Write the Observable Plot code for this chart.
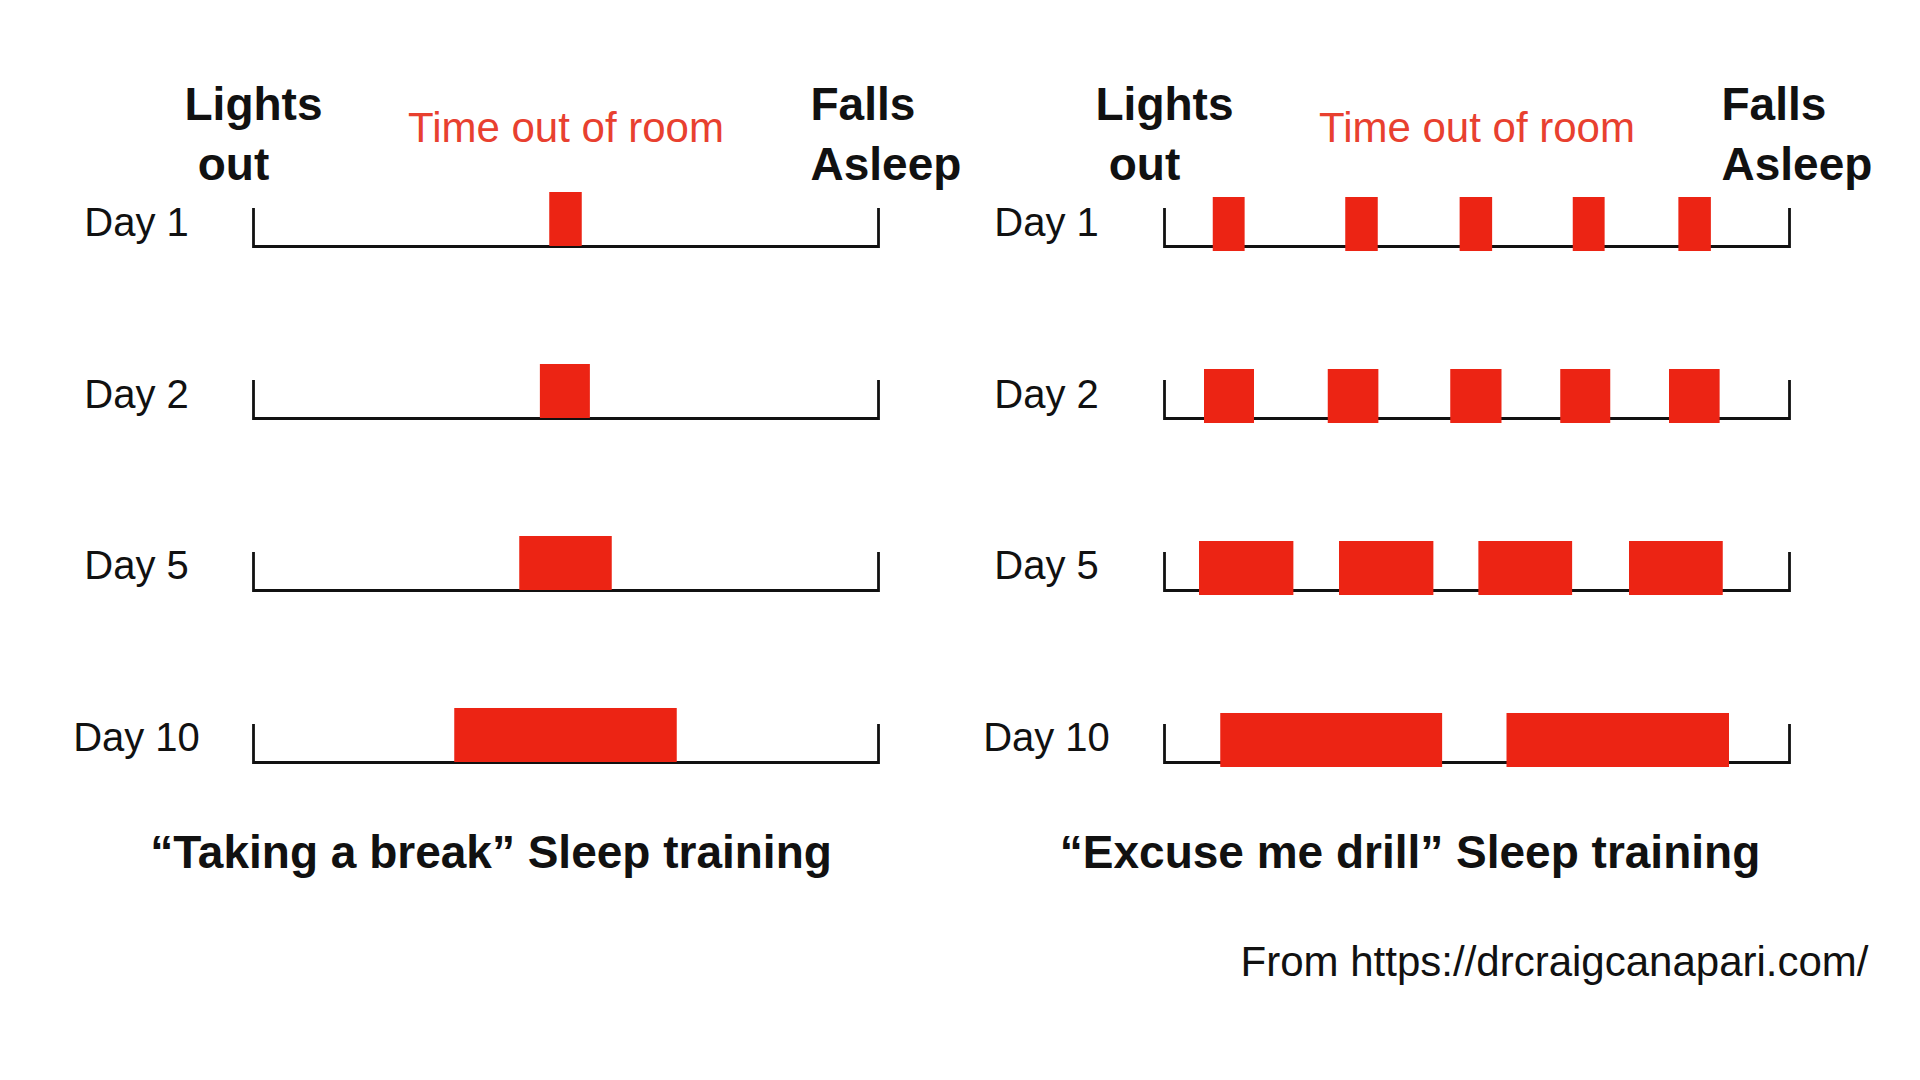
<!DOCTYPE html>
<html>
<head>
<meta charset="utf-8">
<script src="https://cdn.jsdelivr.net/npm/d3@7"></script>
<script src="https://cdn.jsdelivr.net/npm/@observablehq/plot@0.6"></script>
<style>
  html, body { margin: 0; padding: 0; background: #fff; }
  #wrap { position: relative; width: 1920px; height: 1080px; overflow: hidden; background: #fff; }
  #wrap svg { position: absolute; top: 0; overflow: visible; max-width: none; }
</style>
</head>
<body>
<div id="wrap"></div>
<script>
// ---- data ----
const days = ["Day 1", "Day 2", "Day 5", "Day 10"];
const span = [0, 100]; // lights out -> falls asleep (relative time)

// "Taking a break": one period out of the room per night
const breakDay = ["Day 1", "Day 2", "Day 5", "Day 10"];
const breakStart = [47.4, 45.9, 42.6, 32.2];
const breakEnd   = [52.6, 53.9, 57.4, 67.8];

// "Excuse me drill": several periods out of the room per night
const drillDay = ["Day 1","Day 1","Day 1","Day 1","Day 1",
                  "Day 2","Day 2","Day 2","Day 2","Day 2",
                  "Day 5","Day 5","Day 5","Day 5",
                  "Day 10","Day 10"];
const drillStart = [7.8, 29.0, 47.3, 65.4, 82.3,
                    6.4, 26.2, 45.8, 63.4, 80.8,
                    5.6, 28.0, 50.3, 74.4,
                    9.0, 54.8];
const drillEnd   = [12.9, 34.2, 52.5, 70.5, 87.5,
                    14.4, 34.3, 54.0, 71.4, 88.9,
                    20.7, 43.1, 65.3, 89.4,
                    44.5, 90.4];

const titles = ["“Taking a break” Sleep training", "“Excuse me drill” Sleep training"];
const startLabel = ["Lights", "out"];
const endLabel = ["Falls", "Asleep"];
const midLabel = "Time out of room";
const source = "From https://drcraigcanapari.com/";

const RED = "#ec2414";
const TEXTRED = "#e8402f";
const INK = "#111";
const FONT = "'Liberation Sans', Arial, Helvetica, sans-serif";

function rows(dayArr, s, e) {
  return dayArr.map((d, i) => ({day: d, start: s[i], end: e[i]}));
}

function panel(opts) {
  const ends = days.flatMap(d => span.map(x => ({day: d, x})));
  const marks = [
    Plot.ruleY(days, {y: d => d, x1: span[0], x2: span[1], dy: 27, stroke: INK, strokeWidth: 3}),
    Plot.tickX(ends, {x: "x", y: "day", insetTop: 16, insetBottom: -2, stroke: INK, strokeWidth: 2.8}),
    Plot.barX(opts.data, {x1: "start", x2: "end", y: "day", fill: RED, dy: opts.barDy}),
    Plot.text(days, {x: span[0], y: d => d, text: d => d, dx: opts.dayDx, dy: 16,
      lineAnchor: "bottom", textAnchor: "middle", fontSize: 40, fill: INK}),
    Plot.text([startLabel[0]], {x: span[0], frameAnchor: "top", dy: -73, lineAnchor: "bottom",
      textAnchor: "middle", fontSize: 46, fontWeight: "bold", fill: INK}),
    Plot.text([startLabel[1]], {x: span[0], frameAnchor: "top", dx: -20, dy: -13, lineAnchor: "bottom",
      textAnchor: "middle", fontSize: 46, fontWeight: "bold", fill: INK}),
    Plot.text([endLabel[0]], {x: span[1], frameAnchor: "top", dx: -68, dy: -73, lineAnchor: "bottom",
      textAnchor: "start", fontSize: 46, fontWeight: "bold", fill: INK}),
    Plot.text([endLabel[1]], {x: span[1], frameAnchor: "top", dx: -68, dy: -13, lineAnchor: "bottom",
      textAnchor: "start", fontSize: 46, fontWeight: "bold", fill: INK}),
    Plot.text([midLabel], {x: (span[0] + span[1]) / 2, frameAnchor: "top", dy: -51, lineAnchor: "bottom",
      textAnchor: "middle", fontSize: 42, fill: TEXTRED}),
    Plot.text([opts.title], {frameAnchor: "bottom", dx: opts.titleDx, dy: 105, lineAnchor: "bottom",
      textAnchor: "middle", fontSize: 46, fontWeight: "bold", fill: INK})
  ];
  if (opts.source) {
    marks.push(Plot.text([opts.source], {frameAnchor: "bottom-right", dx: 79, dy: 213, lineAnchor: "bottom",
      textAnchor: "end", fontSize: 42, fill: INK}));
  }
  const svg = Plot.plot({
    width: 960,
    height: 1080,
    marginLeft: opts.marginLeft,
    marginRight: opts.marginRight,
    marginTop: 192,
    marginBottom: 318,
    style: {fontFamily: FONT, background: "transparent", overflow: "visible"},
    x: {domain: span, axis: null},
    y: {type: "band", domain: days, paddingInner: 0.686, paddingOuter: 0, align: 0.5, round: false, axis: null},
    marks
  });
  svg.style.left = opts.left + "px";
  return svg;
}

const wrap = document.getElementById("wrap");
wrap.appendChild(panel({
  left: 0, marginLeft: 253, marginRight: 82,
  data: rows(breakDay, breakStart, breakEnd), barDy: 0,
  dayDx: -117, titleDx: -75, title: titles[0]
}));
wrap.appendChild(panel({
  left: 960, marginLeft: 204, marginRight: 131,
  data: rows(drillDay, drillStart, drillEnd), barDy: 5,
  dayDx: -118, titleDx: -67, title: titles[1], source
}));
</script>
</body>
</html>
